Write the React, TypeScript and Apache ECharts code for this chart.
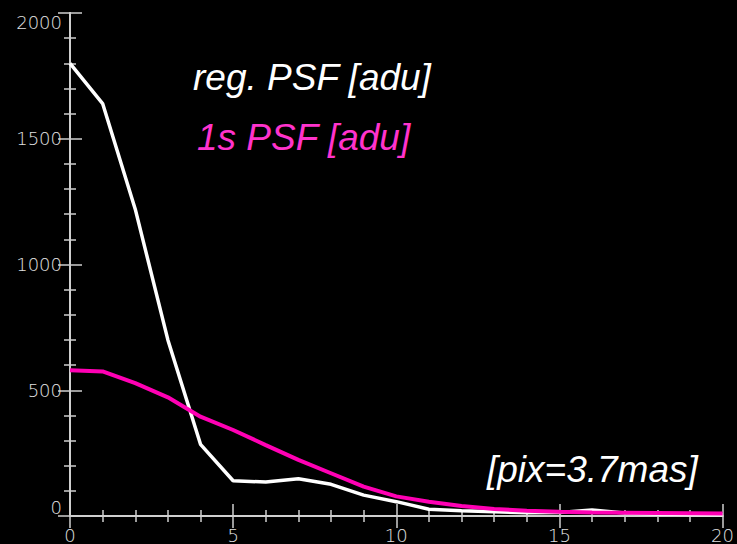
import React, { useEffect, useRef } from "react";
import * as echarts from "echarts";

const xValues = [0, 1, 2, 3, 4, 5, 6, 7, 8, 9, 10, 11, 12, 13, 14, 15, 16, 17, 18, 19, 20];
const regPsf = [1800, 1640, 1220, 700, 285, 140, 135, 148, 126, 83, 57, 27, 21, 17, 13, 14, 24, 12, 8, 6, 5];
const oneSecPsf = [580, 575, 528, 472, 395, 342, 282, 223, 170, 117, 78, 57, 40, 28, 21, 17, 14, 13, 12, 11, 10];
const labels = ["reg. PSF [adu]", "1s PSF [adu]", "[pix=3.7mas]"];

const axisColor = "#cfcfcf";

export default function App() {
  const ref = useRef<HTMLDivElement>(null);
  useEffect(() => {
    const chart = echarts.init(ref.current!, null, { renderer: "svg" });
    const lineStyleAxis = { show: true, lineStyle: { color: axisColor, width: 2 } };
    const tick = { show: true, inside: true, length: 12, lineStyle: { color: axisColor, width: 1.5 } };
    const minor = { show: true, splitNumber: 5, length: 6, lineStyle: { color: axisColor, width: 1.5 } };
    const labelFont = {
      color: "#e0e0e0", fontFamily: "DejaVu Sans", fontSize: 18, fontWeight: 200 as any,
      formatter: (v: number) => String(v),
    };
    chart.setOption({
      animation: false,
      backgroundColor: "#000000",
      grid: { left: 70, top: 13, right: 14, bottom: 28 },
      xAxis: [
        {
          type: "value", min: 0, max: 20, interval: 5, position: "bottom",
          axisLine: lineStyleAxis, axisTick: tick, minorTick: minor, splitLine: { show: false },
          axisLabel: { ...labelFont, margin: 10 },
        },
        {
          type: "value", min: 0, max: 20, interval: 5, position: "top",
          axisLine: lineStyleAxis, axisTick: tick, minorTick: minor, splitLine: { show: false },
          axisLabel: { show: false },
        },
      ],
      yAxis: [
        {
          type: "value", min: 0, max: 2000, interval: 500, position: "left",
          axisLine: lineStyleAxis, axisTick: tick, minorTick: minor, splitLine: { show: false },
          axisLabel: { ...labelFont, margin: 8, verticalAlignMinLabel: "bottom", verticalAlignMaxLabel: "top" },
        },
        {
          type: "value", min: 0, max: 2000, interval: 500, position: "right",
          axisLine: lineStyleAxis, axisTick: tick, minorTick: minor, splitLine: { show: false },
          axisLabel: { show: false },
        },
      ],
      series: [
        {
          type: "line", name: labels[0], showSymbol: false,
          data: xValues.map((x, i) => [x, regPsf[i]]),
          lineStyle: { color: "#ffffff", width: 3.5 }, itemStyle: { color: "#ffffff" },
        },
        {
          type: "line", name: labels[1], showSymbol: false,
          data: xValues.map((x, i) => [x, oneSecPsf[i]]),
          lineStyle: { color: "#ff00b4", width: 4 }, itemStyle: { color: "#ff00b4" },
        },
      ],
      graphic: [
        { type: "text", x: 193, y: 59, style: { text: labels[0], fill: "#ffffff", font: "italic 37px 'Liberation Sans'" } },
        { type: "text", x: 197, y: 119, style: { text: labels[1], fill: "#ff33cc", font: "italic 37px 'Liberation Sans'" } },
        { type: "text", x: 487, y: 451, style: { text: labels[2], fill: "#ffffff", font: "italic 37px 'Liberation Sans'" } },
      ],
    });
    return () => chart.dispose();
  }, []);
  return <div ref={ref} style={{ position: "fixed", left: 0, top: 0, width: 737, height: 544 }} />;
}
